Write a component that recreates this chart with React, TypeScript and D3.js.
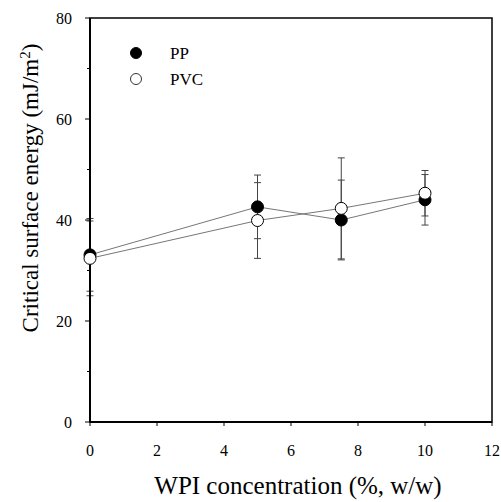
import React from "react";
import * as d3 from "d3";

const xValues = [0, 5, 7.5, 10];
const ppValues = [33.1, 42.6, 40.0, 44.0];
const ppErrors = [7.2, 6.3, 7.9, 5.0];
const pvcValues = [32.4, 39.9, 42.3, 45.3];
const pvcErrors = [7.4, 7.5, 10.0, 4.5];
const xTicks = [0, 2, 4, 6, 8, 10, 12];
const yTicks = [0, 20, 40, 60, 80];
const yMinorTicks = [10, 30, 50, 70];
const seriesNames = ["PP", "PVC"];

const W = 501;
const H = 502;
const margin = { left: 90, right: 9, top: 18, bottom: 80 };
const FONT = "'Liberation Serif', 'Times New Roman', serif";

export default function App() {
  const x = d3.scaleLinear().domain([0, 12]).range([margin.left, W - margin.right]);
  const y = d3.scaleLinear().domain([0, 80]).range([H - margin.bottom, margin.top]);

  const series = [
    { name: seriesNames[0], values: ppValues, errors: ppErrors, fill: "#000" },
    { name: seriesNames[1], values: pvcValues, errors: pvcErrors, fill: "#fff" },
  ];

  const line = d3
    .line<[number, number]>()
    .x((d) => x(d[0]))
    .y((d) => y(d[1]));

  const x0 = x(0);
  const x1 = x(12);
  const y0 = y(0);
  const y1 = y(80);

  return (
    <svg width={W} height={H} style={{ position: "absolute", left: 0, top: 0, background: "#fff" }}>
      <rect x={0} y={0} width={W} height={H} fill="#fff" />
      {/* error bars */}
      {series.map((s) =>
        xValues.map((xv, i) => {
          const cx = x(xv);
          const top = y(s.values[i] + s.errors[i]);
          const bot = y(s.values[i] - s.errors[i]);
          return (
            <g key={s.name + i} stroke="#444" strokeWidth={1}>
              <line x1={cx} x2={cx} y1={top} y2={bot} />
              <line x1={cx - 3.5} x2={cx + 3.5} y1={top} y2={top} />
              <line x1={cx - 3.5} x2={cx + 3.5} y1={bot} y2={bot} />
            </g>
          );
        })
      )}
      {/* lines */}
      {series.map((s) => (
        <path
          key={"l" + s.name}
          d={line(xValues.map((xv, i) => [xv, s.values[i]] as [number, number])) || ""}
          fill="none"
          stroke="#666"
          strokeWidth={0.9}
        />
      ))}
      {/* axis frame */}
      <rect x={x0} y={y1} width={x1 - x0} height={y0 - y1} fill="none" stroke="#000" strokeWidth={1.5} />
      <line x1={x0} x2={x0} y1={y1} y2={y0} stroke="#000" strokeWidth={2} />
      <line x1={x0} x2={x1} y1={y0} y2={y0} stroke="#000" strokeWidth={2} />
      {/* points */}
      {series.map((s) =>
        xValues.map((xv, i) => (
          <circle
            key={"p" + s.name + i}
            cx={x(xv)}
            cy={y(s.values[i])}
            r={6}
            fill={s.fill}
            stroke="#000"
            strokeWidth={1}
          />
        ))
      )}
      {/* x ticks */}
      {xTicks.map((t) => (
        <g key={"xt" + t}>
          <line x1={x(t)} x2={x(t)} y1={y0} y2={y0 + 4} stroke="#000" strokeWidth={1} />
          <text
            x={x(t)}
            y={y0 + 34}
            textAnchor="middle"
            fontFamily={FONT}
            fontSize={16}
            fill="#000"
          >
            {t}
          </text>
        </g>
      ))}
      {/* y ticks */}
      {yTicks.map((t) => (
        <g key={"yt" + t}>
          <line x1={x0 - 5} x2={x0} y1={y(t)} y2={y(t)} stroke="#000" strokeWidth={1} />
          <text
            x={x0 - 18}
            y={y(t)}
            dy="0.35em"
            textAnchor="end"
            fontFamily={FONT}
            fontSize={16}
            fill="#000"
          >
            {t}
          </text>
        </g>
      ))}
      {yMinorTicks.map((t) => (
        <line key={"ym" + t} x1={x0 - 3} x2={x0} y1={y(t)} y2={y(t)} stroke="#000" strokeWidth={1} />
      ))}
      {/* legend */}
      {series.map((s, i) => (
        <g key={"lg" + s.name}>
          <circle cx={136} cy={53 + i * 26} r={5.5} fill={s.fill} stroke="#000" strokeWidth={i === 0 ? 1 : 0.8} />
          <text x={170} y={53 + i * 26} dy="0.35em" fontFamily={FONT} fontSize={17} fill="#000">
            {s.name}
          </text>
        </g>
      ))}
      {/* axis titles */}
      <text
        x={(x0 + x1) / 2 + 7}
        y={494}
        textAnchor="middle"
        fontFamily={FONT}
        fontSize={25}
        fill="#000"
      >
        WPI concentration (%, w/w)
      </text>
      <text
        transform={`translate(38, ${(y0 + y1) / 2 - 32}) rotate(-90)`}
        textAnchor="middle"
        fontFamily={FONT}
        fontSize={23}
        fill="#000"
      >
        Critical surface energy (mJ/m
        <tspan baselineShift="super" fontSize={15}>2</tspan>
        <tspan>)</tspan>
      </text>
    </svg>
  );
}
